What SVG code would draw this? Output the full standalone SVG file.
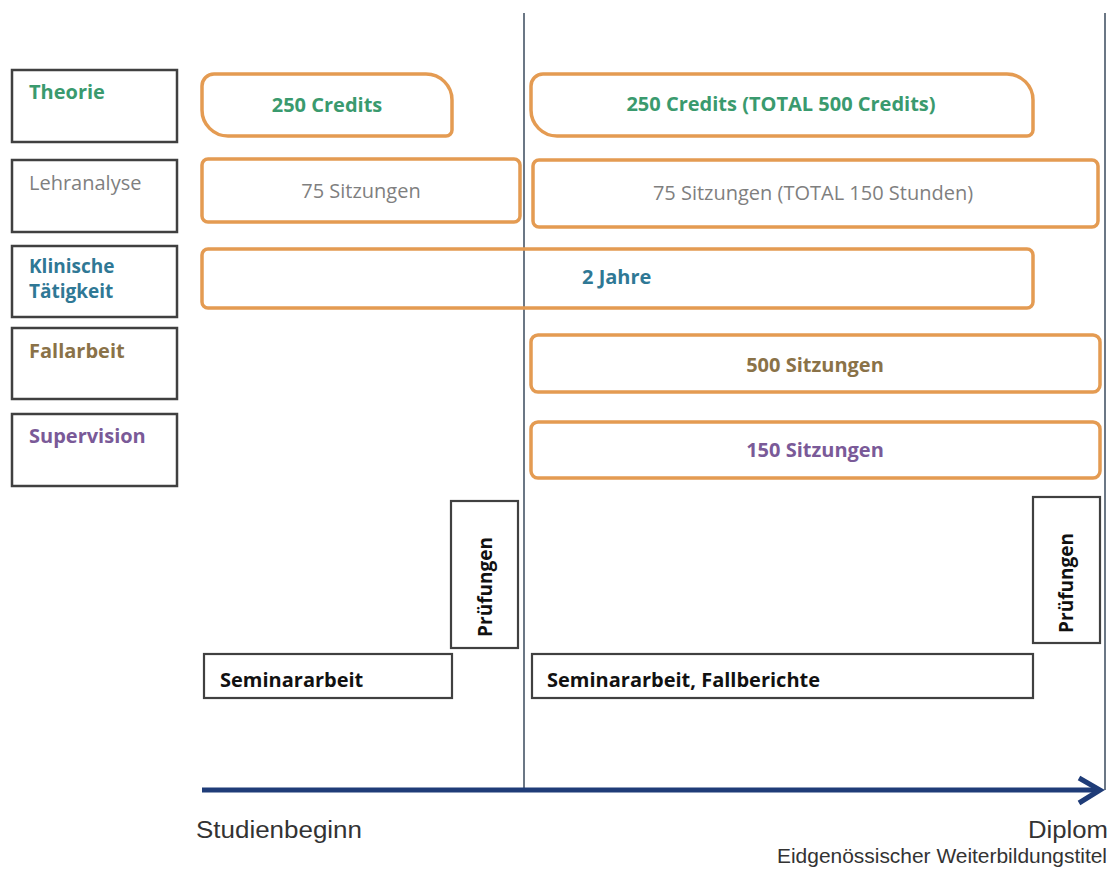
<svg xmlns="http://www.w3.org/2000/svg" width="1120" height="873" viewBox="0 0 1120 873">
<defs>
<style>
.lbl{fill:#fff;stroke:#404040;stroke-width:2.5}
.bar{fill:none;stroke:#E49B52;stroke-width:3.5}
.box{fill:#fff;stroke:#404040;stroke-width:2.2}
.t{font-family:"Open Sans","Liberation Sans",sans-serif;font-size:20px}
.b{font-weight:bold}
.c{text-anchor:middle}
.ax{font-family:"Liberation Sans",Arial,sans-serif;font-size:23px;fill:#333}
.green{fill:#3A9A6E}
.grey{fill:#7F7F7F}
.teal{fill:#2F7895}
.brown{fill:#8A7248}
.purple{fill:#7A5A98}
.dark{fill:#111}
</style>
</defs>
<rect width="1120" height="873" fill="#fff"/>
<g id="connectors">
<line x1="524" y1="13" x2="524" y2="790" stroke="#6B7785" stroke-width="2"/>
<line x1="1105" y1="13" x2="1105" y2="790" stroke="#6B7785" stroke-width="2"/>
<line x1="202" y1="790" x2="1098" y2="790" stroke="#1F3C78" stroke-width="5"/>
<polyline points="1079,778 1100,790 1079,803" fill="none" stroke="#1F3C78" stroke-width="5" stroke-linejoin="miter"/>
</g>
<g id="label-theorie"><rect class="lbl" x="12" y="70" width="165" height="72"/><text class="t b green" x="29" y="99">Theorie</text></g>
<g id="label-lehranalyse"><rect class="lbl" x="12" y="160" width="165" height="72"/><text class="t grey" x="29" y="190">Lehranalyse</text></g>
<g id="label-klinische"><rect class="lbl" x="12" y="246" width="165" height="71"/><text class="t b teal" x="29" y="273" style="font-size:19px">Klinische</text><text class="t b teal" x="29" y="298" style="font-size:19px">Tätigkeit</text></g>
<g id="label-fallarbeit"><rect class="lbl" x="12" y="328" width="165" height="71"/><text class="t b brown" x="29" y="358">Fallarbeit</text></g>
<g id="label-supervision"><rect class="lbl" x="12" y="414" width="165" height="72"/><text class="t b purple" x="29" y="443">Supervision</text></g>
<g id="theorie-1"><path class="bar" d="M214,74 H426 A26,26 0 0 1 452,100 V130 A6,6 0 0 1 446,136 H228 A26,26 0 0 1 202,110 V86 A12,12 0 0 1 214,74 Z"/><text class="t b c green" x="327" y="112">250 Credits</text></g>
<g id="theorie-2"><path class="bar" d="M543,74 H1007 A26,26 0 0 1 1033,100 V130 A6,6 0 0 1 1027,136 H557 A26,26 0 0 1 531,110 V86 A12,12 0 0 1 543,74 Z"/><text class="t b c green" x="781" y="111">250 Credits (TOTAL 500 Credits)</text></g>
<g id="lehranalyse-1"><rect class="bar" x="202" y="159" width="318" height="63" rx="6"/><text class="t c grey" x="361" y="198">75 Sitzungen</text></g>
<g id="lehranalyse-2"><rect class="bar" x="533" y="160" width="565" height="67" rx="6"/><text class="t c grey" x="813" y="200">75 Sitzungen (TOTAL 150 Stunden)</text></g>
<g id="klinische-bar"><rect class="bar" x="202" y="249" width="831" height="59" rx="6"/><text class="t b teal" x="582" y="284">2 Jahre</text></g>
<g id="fallarbeit-bar"><rect class="bar" x="531" y="335" width="569" height="57" rx="7"/><text class="t b c brown" x="815" y="372">500 Sitzungen</text></g>
<g id="supervision-bar"><rect class="bar" x="531" y="422" width="569" height="56" rx="7"/><text class="t b c purple" x="815" y="457">150 Sitzungen</text></g>
<g id="pruefungen-1"><rect class="box" x="451" y="501" width="67" height="147"/><text class="t b c dark" transform="translate(492,587) rotate(-90)" x="0" y="0" style="font-size:19px">Prüfungen</text></g>
<g id="pruefungen-2"><rect class="box" x="1033" y="497" width="67" height="146"/><text class="t b c dark" transform="translate(1073,583) rotate(-90)" x="0" y="0" style="font-size:19px">Prüfungen</text></g>
<g id="seminar-1"><rect class="box" x="204" y="654" width="248" height="44"/><text class="t b dark" x="220" y="687">Seminararbeit</text></g>
<g id="seminar-2"><rect class="box" x="532" y="654" width="501" height="44"/><text class="t b dark" x="547" y="687">Seminararbeit, Fallberichte</text></g>
<g id="axis-labels">
<text class="ax" x="196" y="838" textLength="166" lengthAdjust="spacingAndGlyphs">Studienbeginn</text>
<text class="ax" x="1108" y="838" text-anchor="end" textLength="80" lengthAdjust="spacingAndGlyphs">Diplom</text>
<text class="ax" x="1107" y="863" text-anchor="end" textLength="330" lengthAdjust="spacingAndGlyphs" style="font-size:21px">Eidgenössischer Weiterbildungstitel</text>
</g>
</svg>
